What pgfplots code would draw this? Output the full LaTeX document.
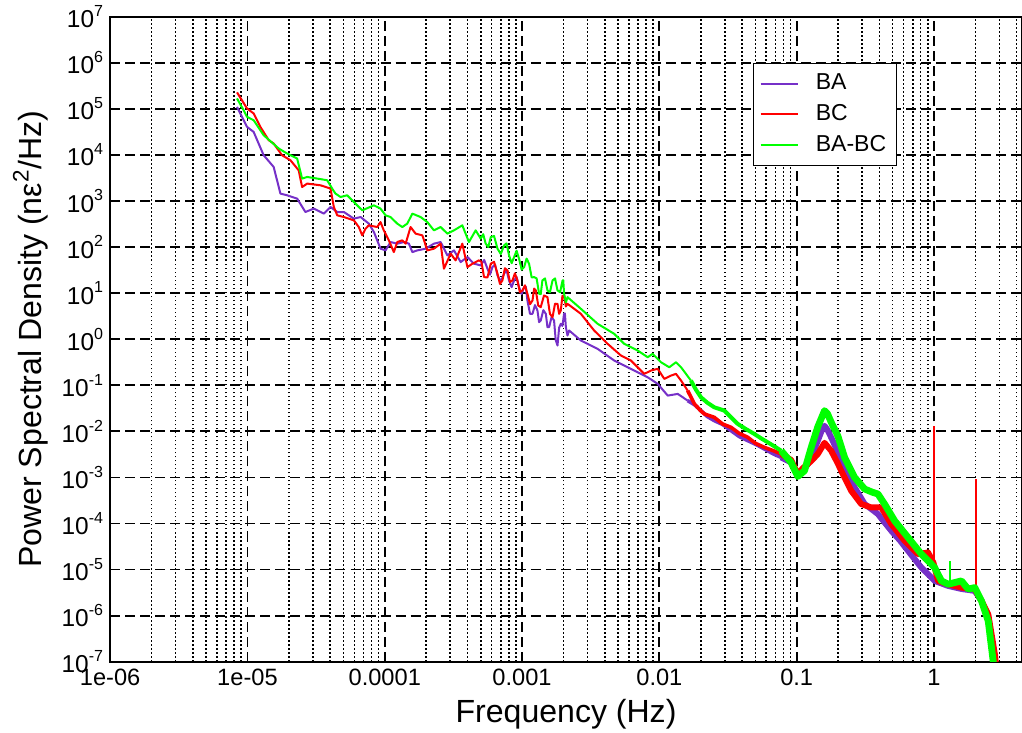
\documentclass[border=0pt]{standalone}
\usepackage{fontspec}
\setmainfont{Liberation Sans}
\usepackage{pgfplots}
\usepackage{pgfplotstable}
\pgfplotsset{compat=1.18}

\definecolor{bapurple}{RGB}{118,48,200}
\definecolor{bcred}{RGB}{255,0,0}
\definecolor{bgreen}{RGB}{0,255,0}

\newcommand\ex[1]{10\raisebox{5.6pt}{\fontsize{8}{8}\selectfont #1}}

% all values are log10(frequency) and log10(PSD)
\pgfplotstableread{
lx ly
-5.076 5.043
-5.052 4.900
-5.003 4.609
-4.955 4.500
-4.882 3.993
-4.809 3.739
-4.760 3.161
-4.711 3.124
-4.638 3.052
-4.578 2.761
-4.517 2.835
-4.444 2.726
-4.395 2.870
-4.346 2.761
-4.298 2.761
-4.225 2.617
-4.176 2.652
-4.116 2.509
-4.079 2.326
-4.031 1.965
-3.994 1.928
-3.958 2.109
-3.909 2.074
-3.861 2.109
-3.824 2.074
-3.799 1.891
-3.763 1.928
-3.702 1.965
-3.642 2.074
-3.593 2.109
-3.544 1.820
-3.496 1.928
-3.447 1.674
-3.398 1.783
-3.350 1.639
-3.301 1.602
-3.276 1.72
-3.252 1.530
-3.234 1.40
-3.216 1.565
-3.197 1.62
-3.179 1.385
-3.155 1.25
-3.131 1.422
-3.113 1.50
-3.095 1.276
-3.076 1.13
-3.058 1.276
-3.040 1.35
-3.022 1.130
-3.003 0.98
-2.985 1.130
-2.973 1.14
-2.961 0.841
-2.942 0.55
-2.924 0.552
-2.906 0.74
-2.888 0.624
-2.876 0.37
-2.864 0.407
-2.845 0.63
-2.827 0.552
-2.815 0.26
-2.803 0.261
-2.785 0.48
-2.767 0.407
-2.755 -0.02
-2.742 -0.137
-2.730 0.25
-2.718 0.335
-2.706 0.29
-2.694 0.552
-2.688 0.56
-2.681 0.261
-2.669 0.08
-2.657 0.189
-2.572 -0.028
-2.450 -0.209
-2.329 -0.463
-2.207 -0.644
-2.085 -0.826
-2.012 -0.970
-1.939 -1.224
-1.866 -1.187
-1.794 -1.333
}\baA
\pgfplotstableread{
lx ly
-1.794 -1.333
-1.745 -1.42
-1.697 -1.550
-1.650 -1.68
-1.600 -1.767
-1.540 -1.85
-1.478 -1.985
-1.420 -2.11
-1.356 -2.202
-1.300 -2.28
-1.235 -2.383
-1.170 -2.49
-1.113 -2.565
}\baB
\pgfplotstableread{
lx ly
-1.113 -2.565
-1.041 -2.674
-0.992 -2.963
-0.955 -2.85
-0.918 -2.709
-0.880 -2.45
-0.846 -2.202
-0.820 -2.00
-0.797 -1.880
-0.775 -1.97
-0.749 -2.130
-0.700 -2.45
-0.676 -2.709
-0.620 -3.00
-0.578 -3.217
-0.505 -3.578
-0.450 -3.70
-0.408 -3.796
-0.311 -4.159
-0.250 -4.36
-0.189 -4.593
-0.092 -4.957
0.005 -5.246
0.103 -5.354
0.200 -5.420
0.297 -5.463
0.346 -5.680
0.395 -6.007
0.437 -6.876
0.445 -7.05
}\baC

\pgfplotstableread{
lx ly
-5.076 5.357
-5.003 5.009
-4.955 4.900
-4.906 4.609
-4.845 4.320
-4.809 4.248
-4.748 3.993
-4.687 3.885
-4.627 3.667
-4.602 3.304
-4.565 3.378
-4.468 3.341
-4.395 3.270
-4.371 2.870
-4.346 2.689
-4.298 2.652
-4.225 2.580
-4.189 2.435
-4.164 2.254
-4.140 2.400
-4.116 2.472
-4.055 2.435
-4.031 2.543
-4.007 2.363
-3.970 2.146
-3.934 1.891
-3.909 2.109
-3.872 2.146
-3.848 2.074
-3.812 2.435
-3.775 2.291
-3.726 2.254
-3.690 1.928
-3.642 1.965
-3.593 2.074
-3.569 1.530
-3.520 1.857
-3.484 1.711
-3.435 2.074
-3.398 1.565
-3.362 1.639
-3.314 1.711
-3.296 1.68
-3.277 1.348
-3.252 1.34
-3.228 1.639
-3.204 1.68
-3.179 1.422
-3.161 1.20
-3.143 1.276
-3.125 1.54
-3.106 1.494
-3.088 1.24
-3.070 1.276
-3.052 1.43
-3.034 1.276
-3.016 1.02
-2.997 1.059
-2.979 1.17
-2.961 0.987
-2.942 0.76
-2.924 0.841
-2.912 1.10
-2.900 1.059
-2.882 0.73
-2.864 0.696
-2.840 0.95
-2.815 0.913
-2.797 0.55
-2.778 0.478
-2.760 0.77
-2.742 0.768
-2.730 0.55
-2.718 0.624
-2.706 0.94
-2.694 0.950
-2.681 0.71
-2.669 0.768
-2.572 0.552
-2.475 0.189
-2.377 -0.100
-2.280 -0.354
-2.207 -0.463
-2.110 -0.752
-2.061 -0.680
-2.012 -0.643
-1.964 -0.861
-1.915 -0.789
-1.879 -0.752
-1.842 -0.898
-1.794 -1.115
}\bcA
\pgfplotstableread{
lx ly
-1.794 -1.115
-1.745 -1.404
-1.700 -1.55
-1.672 -1.622
-1.600 -1.696
-1.540 -1.84
-1.478 -1.913
-1.420 -2.04
-1.356 -2.130
-1.300 -2.26
-1.235 -2.348
-1.170 -2.42
-1.113 -2.491
}\bcB
\pgfplotstableread{
lx ly
-1.113 -2.491
-1.041 -2.62
-0.992 -2.926
-0.955 -2.80
-0.918 -2.709
-0.880 -2.60
-0.846 -2.491
-0.797 -2.250
-0.749 -2.420
-0.700 -2.70
-0.676 -2.855
-0.603 -3.290
-0.530 -3.578
-0.457 -3.652
-0.384 -3.652
-0.311 -4.013
-0.214 -4.376
-0.116 -4.665
-0.043 -4.630
-0.004 -4.854
0.030 -5.246
0.103 -5.318
0.200 -5.391
0.297 -5.426
0.346 -5.680
0.395 -5.970
0.443 -6.833
0.451 -7.05
}\bcC
\pgfplotstableread{
lx ly
0.000 -4.90
0.000 -1.876
}\bcSpikeA
\pgfplotstableread{
lx ly
0.303 -5.43
0.303 -3.028
}\bcSpikeB

\pgfplotstableread{
lx ly
-5.076 5.226
-5.028 4.972
-5.003 4.826
-4.955 4.754
-4.882 4.428
-4.772 4.139
-4.711 4.030
-4.638 3.922
-4.602 3.487
-4.565 3.522
-4.492 3.487
-4.419 3.450
-4.383 3.270
-4.359 3.161
-4.322 3.087
-4.274 3.124
-4.225 2.978
-4.164 2.798
-4.079 2.906
-4.031 2.835
-3.994 2.689
-3.958 2.652
-3.909 2.509
-3.872 2.435
-3.836 2.509
-3.799 2.726
-3.739 2.652
-3.690 2.543
-3.642 2.363
-3.593 2.435
-3.544 2.291
-3.496 2.363
-3.435 2.472
-3.387 2.109
-3.338 2.363
-3.301 2.183
-3.283 2.28
-3.265 2.074
-3.246 2.00
-3.228 2.217
-3.204 2.24
-3.179 1.965
-3.155 1.85
-3.131 2.037
-3.113 2.08
-3.095 1.820
-3.076 1.65
-3.058 1.783
-3.040 1.92
-3.022 1.748
-3.003 1.51
-2.985 1.565
-2.967 1.75
-2.949 1.639
-2.930 1.34
-2.912 1.348
-2.894 1.32
-2.876 0.987
-2.864 0.98
-2.852 1.276
-2.833 1.32
-2.815 1.059
-2.797 1.02
-2.778 1.276
-2.760 1.32
-2.742 1.059
-2.723 1.02
-2.705 1.276
-2.700 1.28
-2.694 0.987
-2.681 0.80
-2.669 0.913
-2.572 0.661
-2.450 0.335
-2.329 0.117
-2.256 -0.100
-2.158 -0.246
-2.085 -0.391
-2.049 -0.317
-1.988 -0.500
-1.928 -0.609
-1.879 -0.500
-1.842 -0.609
-1.770 -0.898
}\dfA
\pgfplotstableread{
lx ly
-1.770 -0.898
-1.733 -1.10
-1.697 -1.261
-1.650 -1.38
-1.600 -1.478
-1.527 -1.550
-1.470 -1.72
-1.429 -1.839
-1.370 -1.95
-1.308 -2.057
-1.260 -2.15
-1.210 -2.239
-1.160 -2.33
-1.113 -2.420
}\dfB
\pgfplotstableread{
lx ly
-1.113 -2.420
-1.041 -2.674
-0.992 -2.98
-0.943 -2.855
-0.894 -2.348
-0.846 -1.90
-0.797 -1.55
-0.775 -1.62
-0.749 -1.80
-0.700 -2.100
-0.651 -2.565
-0.578 -3.000
-0.505 -3.252
-0.450 -3.32
-0.408 -3.361
-0.360 -3.578
-0.287 -3.941
-0.189 -4.304
-0.092 -4.665
-0.043 -4.811
0.005 -4.957
0.054 -5.246
0.103 -5.318
0.200 -5.246
0.249 -5.426
0.297 -5.391
0.346 -5.680
0.395 -6.116
0.431 -6.985
0.436 -7.1
}\dfC
\pgfplotstableread{
lx ly
0.115 -5.30
0.115 -4.811
}\dfSpike

\begin{document}
\begin{tikzpicture}
\begin{loglogaxis}[
    name=ax,
    scale only axis,
    width=455.25pt, height=322pt,
    xmin=1e-6, xmax=4.375,
    ymin=1e-7, ymax=1e7,
    xtick={1e-6,1e-5,1e-4,1e-3,1e-2,1e-1,1},
    xticklabels={1e-06,1e-05,0.0001,0.001,0.01,0.1,1},
    minor xtick={2e-6,3e-6,4e-6,5e-6,6e-6,7e-6,8e-6,9e-6,
        2e-5,3e-5,4e-5,5e-5,6e-5,7e-5,8e-5,9e-5,
        2e-4,3e-4,4e-4,5e-4,6e-4,7e-4,8e-4,9e-4,
        2e-3,3e-3,4e-3,5e-3,6e-3,7e-3,8e-3,9e-3,
        0.02,0.03,0.04,0.05,0.06,0.07,0.08,0.09,
        0.2,0.3,0.4,0.5,0.6,0.7,0.8,0.9,2,3,4},
    ytick={1e-7,1e-6,1e-5,1e-4,1e-3,1e-2,1e-1,1,1e1,1e2,1e3,1e4,1e5,1e6,1e7},
    yticklabels={\ex{-7},\ex{-6},\ex{-5},\ex{-4},\ex{-3},\ex{-2},\ex{-1},
        \ex{0},\ex{1},\ex{2},\ex{3},\ex{4},\ex{5},\ex{6},\ex{7}},
    xmajorgrids, xminorgrids, ymajorgrids,
    major grid style={black, line width=0.9pt, dash pattern=on 5pt off 2.5pt},
    minor grid style={black, line width=0.8pt, dash pattern=on 0.8pt off 1.2pt},
    major tick length=0pt, minor tick length=0pt,
    axis line style={line width=1pt},
    xticklabel style={font=\fontsize{11.8}{13}\selectfont},
    yticklabel style={font=\fontsize{12.2}{13}\selectfont},
    label style={font=\fontsize{16}{19}\selectfont},
    xlabel={Frequency (Hz)},
    ylabel={Power Spectral Density (nε\textsuperscript{2}/Hz)},
    every axis plot/.append style={line join=round},
    legend style={at={(0.705,0.928)}, anchor=north west, draw=black,
        line width=0.5pt, font=\fontsize{11.5}{13}\selectfont,
        inner xsep=3pt, inner ysep=3.2pt, row sep=1.9pt, column sep=6.5pt,
        cells={anchor=west}},
    legend image code/.code={\draw[#1, line width=1pt] (0pt,0pt) -- (18.6pt,0pt);},
]
\addplot[bapurple, line width=1pt] table[x expr={10^(\thisrow{lx})}, y expr={10^(\thisrow{ly})}]{\baA};
\addlegendentry{BA}
\addplot[bapurple, line width=1.8pt, forget plot] table[x expr={10^(\thisrow{lx})}, y expr={10^(\thisrow{ly})}]{\baB};
\addplot[bapurple, line width=3pt, forget plot] table[x expr={10^(\thisrow{lx})}, y expr={10^(\thisrow{ly})}]{\baC};

\addplot[bcred, line width=1pt] table[x expr={10^(\thisrow{lx})}, y expr={10^(\thisrow{ly})}]{\bcA};
\addlegendentry{BC}
\addplot[bcred, line width=1.8pt, forget plot] table[x expr={10^(\thisrow{lx})}, y expr={10^(\thisrow{ly})}]{\bcB};
\addplot[bcred, line width=3pt, forget plot] table[x expr={10^(\thisrow{lx})}, y expr={10^(\thisrow{ly})}]{\bcC};
\addplot[bcred, line width=1pt, forget plot] table[x expr={10^(\thisrow{lx})}, y expr={10^(\thisrow{ly})}]{\bcSpikeA};
\addplot[bcred, line width=1pt, forget plot] table[x expr={10^(\thisrow{lx})}, y expr={10^(\thisrow{ly})}]{\bcSpikeB};

\addplot[bgreen, line width=1pt] table[x expr={10^(\thisrow{lx})}, y expr={10^(\thisrow{ly})}]{\dfA};
\addlegendentry{BA-BC}
\addplot[bgreen, line width=2pt, forget plot] table[x expr={10^(\thisrow{lx})}, y expr={10^(\thisrow{ly})}]{\dfB};
\addplot[bgreen, line width=3.4pt, forget plot] table[x expr={10^(\thisrow{lx})}, y expr={10^(\thisrow{ly})}]{\dfC};
\addplot[bgreen, line width=1pt, forget plot] table[x expr={10^(\thisrow{lx})}, y expr={10^(\thisrow{ly})}]{\dfSpike};
\end{loglogaxis}
\pgfresetboundingbox
\path ([shift={(-55pt,-35.15pt)}]ax.south west) rectangle ([shift={(0pt,8.35pt)}]ax.north east);
\end{tikzpicture}
\end{document}
